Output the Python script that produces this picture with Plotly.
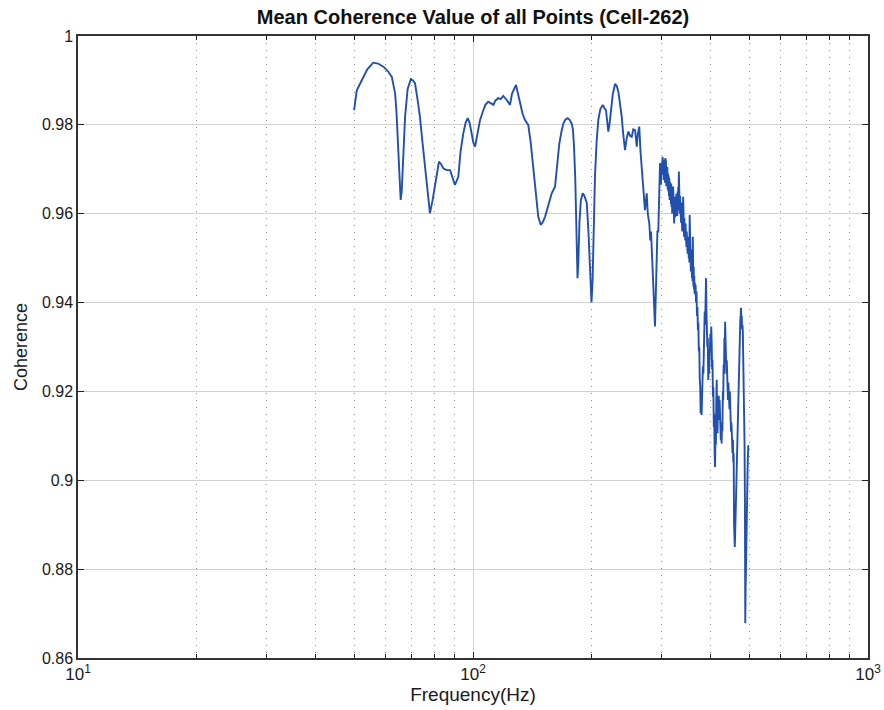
import plotly.graph_objects as go

# Mean coherence spectrum, 50-500 Hz, stored in three frequency bands.
# Band 1: 50-296 Hz
freq_low = [
    50.0, 50.8, 51.8, 52.8, 54.0, 55.9, 57.5, 59.3, 61.0, 62.3, 63.0, 63.5, 64.0, 64.4,
    65.0, 65.6, 66.0, 66.4, 67.3, 68.3, 69.6, 70.5, 71.3, 72.3, 73.4, 74.5, 75.6, 76.7,
    77.8, 79.0, 80.2, 82.0, 83.0, 84.1, 85.0, 85.8, 87.5, 88.5, 90.0, 91.8, 93.0, 94.5,
    95.8, 97.0, 98.0, 99.2, 100.2, 101.2, 102.5, 104.2, 106.2, 107.5, 109.3, 111.0,
    112.6, 114.0, 115.9, 117.5, 119.3, 121.7, 124.1, 125.5, 126.5, 128.5, 130.0, 131.5,
    133.5, 135.4, 138.0, 140.0, 142.1, 144.5, 146.3, 148.4, 150.0, 152.2, 155.0, 158.2,
    161.3, 163.5, 165.4, 167.5, 169.3, 171.5, 173.6, 175.5, 177.8, 179.0, 180.2, 181.5,
    183.0, 183.9, 184.8, 186.0, 187.5, 189.6, 191.5, 194.1, 196.0, 197.8, 199.5, 200.8,
    202.0, 203.6, 205.5, 207.6, 210.0, 213.0, 215.0, 217.1, 218.5, 220.1, 221.5, 223.2,
    226.0, 228.9, 231.0, 233.3, 235.5, 238.0, 240.0, 242.6, 245.0, 247.3, 250.0, 252.3,
    254.5, 257.2, 258.5, 259.7, 261.5, 263.6, 265.5, 267.4, 270.0, 272.5, 275.3, 277.0,
    279.5, 281.0, 282.3, 284.0, 286.1, 287.5, 288.9, 290.3, 291.8, 293.0, 294.5, 296.0,
]
coh_low = [
    0.9833, 0.9878, 0.9893, 0.9908, 0.9925, 0.9940, 0.9938, 0.9931, 0.9920, 0.9908, 0.9890, 0.9871, 0.9830, 0.9781,
    0.9700, 0.9631, 0.9650, 0.9706, 0.9818, 0.9880, 0.9903, 0.9900, 0.9894, 0.9860, 0.9818, 0.9760, 0.9706, 0.9650,
    0.9601, 0.9630, 0.9668, 0.9717, 0.9712, 0.9702, 0.9700, 0.9698, 0.9698, 0.9685, 0.9665, 0.9683, 0.9740, 0.9781,
    0.9805, 0.9815, 0.9805, 0.9781, 0.9760, 0.9751, 0.9780, 0.9811, 0.9833, 0.9845, 0.9852, 0.9848,
    0.9845, 0.9855, 0.9860, 0.9858, 0.9865, 0.9856, 0.9845, 0.9870, 0.9878, 0.9890, 0.9870, 0.9849,
    0.9825, 0.9811, 0.9800, 0.9760, 0.9706, 0.9640, 0.9593, 0.9575, 0.9580, 0.9593, 0.9618, 0.9646,
    0.9661, 0.9720, 0.9758, 0.9785, 0.9803, 0.9812, 0.9815, 0.9812, 0.9803, 0.9790, 0.9751, 0.9680,
    0.9571, 0.9455, 0.9490, 0.9580, 0.9630, 0.9646, 0.9640, 0.9624, 0.9560, 0.9470, 0.9400, 0.9450,
    0.9580, 0.9683, 0.9760, 0.9811, 0.9835, 0.9845, 0.9838, 0.9833, 0.9810, 0.9785, 0.9800, 0.9833,
    0.9870, 0.9892, 0.9888, 0.9875, 0.9850, 0.9818, 0.9780, 0.9743, 0.9770, 0.9785, 0.9775, 0.9773,
    0.9790, 0.9788, 0.9770, 0.9751, 0.9780, 0.9796, 0.9740, 0.9698, 0.9650, 0.9608, 0.9646, 0.9600,
    0.9578, 0.9540, 0.9560, 0.9500, 0.9466, 0.9400, 0.9346, 0.9420, 0.9496, 0.9560, 0.9560, 0.9640,
]

# Band 2: 297-365 Hz (dense, fluctuating)
freq_mid = [
    297.5, 298.0, 298.6, 299.1, 299.7, 300.2, 300.8, 301.4, 302.0, 302.6,
    303.2, 303.8, 304.4, 305.0, 305.6, 306.2, 306.8, 307.4, 308.0, 308.6,
    309.2, 309.8, 310.4, 311.0, 311.6, 312.2, 312.8, 313.4, 314.0, 314.6,
    315.2, 315.8, 316.4, 317.0, 317.6, 318.2, 318.8, 319.4, 320.0, 320.6,
    321.2, 321.8, 322.4, 323.0, 323.6, 324.2, 324.8, 325.4, 326.0, 326.6,
    327.2, 327.8, 328.4, 329.0, 329.6, 330.2, 330.8, 331.4, 332.0, 332.6,
    333.2, 333.8, 334.4, 335.0, 335.6, 336.2, 336.8, 337.4, 338.0, 338.6,
    339.2, 339.8, 340.4, 341.0, 341.6, 342.2, 342.8, 343.4, 344.0, 344.6,
    345.2, 345.8, 346.4, 347.0, 347.6, 348.2, 348.8, 349.4, 350.0, 350.6,
    351.2, 351.8, 352.4, 353.0, 353.6, 354.2, 354.8, 355.4, 356.0, 356.6,
    357.2, 357.8, 358.4, 359.0, 359.6, 360.2, 360.8, 361.4, 362.0, 362.6,
    363.2, 363.8, 364.4, 365.0,
]
coh_mid = [
    0.9714, 0.9680, 0.9706, 0.9665, 0.9712, 0.9690, 0.9722, 0.9695, 0.9728, 0.9688,
    0.9718, 0.9676, 0.9722, 0.9690, 0.9713, 0.9670, 0.9725, 0.9685, 0.9718, 0.9662,
    0.9700, 0.9668, 0.9705, 0.9655, 0.9691, 0.9650, 0.9686, 0.9640, 0.9680, 0.9631,
    0.9672, 0.9645, 0.9661, 0.9622, 0.9668, 0.9615, 0.9650, 0.9600, 0.9645, 0.9610,
    0.9661, 0.9590, 0.9640, 0.9578, 0.9632, 0.9598, 0.9638, 0.9592, 0.9628, 0.9600,
    0.9645, 0.9605, 0.9638, 0.9595, 0.9650, 0.9608, 0.9660, 0.9612, 0.9695, 0.9630,
    0.9665, 0.9600, 0.9640, 0.9595, 0.9632, 0.9580, 0.9625, 0.9570, 0.9616, 0.9560,
    0.9605, 0.9565, 0.9638, 0.9555, 0.9600, 0.9548, 0.9590, 0.9550, 0.9585, 0.9540,
    0.9578, 0.9535, 0.9570, 0.9525, 0.9560, 0.9518, 0.9555, 0.9510, 0.9548, 0.9505,
    0.9540, 0.9500, 0.9530, 0.9490, 0.9597, 0.9520, 0.9480, 0.9535, 0.9470, 0.9520,
    0.9466, 0.9505, 0.9455, 0.9490, 0.9448, 0.9548, 0.9460, 0.9436, 0.9480, 0.9430,
    0.9460, 0.9421, 0.9445, 0.9418,
]

# Band 3: 366-498 Hz
freq_high = [
    366.0, 367.0, 368.0, 369.0, 370.0, 371.0, 372.0, 373.0, 374.0, 375.0,
    376.0, 377.0, 378.0, 379.0, 380.0, 381.0, 382.0, 383.0, 384.0, 385.0,
    386.0, 387.0, 388.0, 389.0, 390.0, 391.0, 392.0, 393.0, 394.0, 395.0,
    396.0, 397.0, 398.0, 399.0, 400.0, 401.0, 402.0, 403.0, 404.0, 405.0,
    406.0, 407.0, 408.0, 409.0, 410.0, 411.0, 412.0, 413.0, 414.0, 415.0,
    416.0, 417.0, 418.0, 419.0, 420.0, 421.0, 422.0, 423.0, 424.0, 425.0,
    426.0, 427.0, 428.0, 429.0, 430.0, 431.0, 432.0, 433.0, 434.0, 434.8,
    436.0, 437.0, 438.0, 439.0, 440.0, 441.0, 442.0, 443.0, 444.0, 445.0,
    446.0, 447.0, 448.0, 449.0, 450.0, 451.0, 452.0, 453.0, 454.0, 455.0,
    456.0, 457.0, 458.0, 459.0, 460.0, 461.0, 462.0, 463.0, 464.0, 465.0,
    466.0, 467.0, 468.0, 469.0, 470.0, 471.0, 472.0, 473.0, 474.0, 475.0,
    476.0, 477.0, 478.0, 479.0, 480.0, 481.0, 482.0, 483.0, 484.0, 485.0,
    486.0, 487.0, 488.0, 489.0, 490.0, 491.0, 492.0, 493.0, 494.0, 495.0,
    496.0, 497.7,
]
coh_high = [
    0.9440, 0.9400, 0.9425, 0.9370, 0.9390, 0.9338, 0.9355, 0.9290, 0.9300, 0.9230,
    0.9211, 0.9151, 0.9180, 0.9147, 0.9210, 0.9190, 0.9256, 0.9240, 0.9330, 0.9300,
    0.9380, 0.9350, 0.9430, 0.9455, 0.9380, 0.9353, 0.9300, 0.9320, 0.9226, 0.9260,
    0.9240, 0.9300, 0.9270, 0.9330, 0.9290, 0.9346, 0.9310, 0.9250, 0.9270, 0.9188,
    0.9210, 0.9120, 0.9150, 0.9060, 0.9030, 0.9100, 0.9080, 0.9180, 0.9226, 0.9130,
    0.9106, 0.9170, 0.9140, 0.9190, 0.9136, 0.9181, 0.9120, 0.9150, 0.9090, 0.9120,
    0.9083, 0.9130, 0.9110, 0.9200, 0.9180, 0.9260, 0.9240, 0.9320, 0.9300, 0.9357,
    0.9280, 0.9310, 0.9240, 0.9270, 0.9210, 0.9240, 0.9181, 0.9220, 0.9170, 0.9210,
    0.9160, 0.9200, 0.9140, 0.9170, 0.9110, 0.9130, 0.9080, 0.9100, 0.9061, 0.9091,
    0.9040, 0.9060, 0.8903, 0.8880, 0.8850, 0.8880, 0.8920, 0.8960, 0.9000, 0.9020,
    0.9050, 0.9075, 0.9120, 0.9180, 0.9220, 0.9250, 0.9271, 0.9300, 0.9330, 0.9360,
    0.9370, 0.9388, 0.9360, 0.9370, 0.9340, 0.9350, 0.9338, 0.9280, 0.9250, 0.9200,
    0.9188, 0.9080, 0.8950, 0.8678, 0.8760, 0.8800, 0.8870, 0.8926, 0.8960, 0.9000,
    0.9040, 0.9079,
]

assert len(freq_low) == len(coh_low)
assert len(freq_mid) == len(coh_mid)
assert len(freq_high) == len(coh_high)

freq_hz = freq_low + freq_mid + freq_high
coherence = coh_low + coh_mid + coh_high

x_major = [10, 100, 1000]
x_major_text = ["10<sup>1</sup>", "10<sup>2</sup>", "10<sup>3</sup>"]
x_minor = [20, 30, 40, 50, 60, 70, 80, 90, 200, 300, 400, 500, 600, 700, 800, 900]
y_ticks = [0.86, 0.88, 0.9, 0.92, 0.94, 0.96, 0.98, 1.0]
y_tick_text = ["0.86", "0.88", "0.9", "0.92", "0.94", "0.96", "0.98", "1"]

FONT = "Liberation Sans"

fig = go.Figure()
fig.add_trace(go.Scatter(
    x=freq_hz, y=coherence, mode="lines",
    line=dict(color="#2150b0", width=1.9),
    showlegend=False,
))

fig.update_layout(
    width=884, height=710,
    margin=dict(l=78, r=16, t=36, b=52),
    paper_bgcolor="white", plot_bgcolor="white",
    font=dict(family=FONT, size=16, color="#1a1a1a"),
    title=dict(
        text="<b>Mean Coherence Value of all Points (Cell-262)</b>",
        x=0.5, xref="paper", xanchor="center",
        y=1 - 17 / 710, yref="container", yanchor="middle",
        font=dict(family=FONT, size=20, color="#111"),
    ),
)

fig.update_xaxes(
    type="log", range=[1, 3], automargin=False,
    tickmode="array", tickvals=x_major, ticktext=x_major_text,
    ticks="inside", ticklen=6, tickwidth=1.2, tickcolor="#222",
    showline=True, linecolor="#333", linewidth=1.5, mirror="ticks",
    showgrid=True, gridcolor="#d2d2d2", gridwidth=1.3,
    zeroline=False,
    tickfont=dict(size=17),
    minor=dict(
        tickmode="array", tickvals=x_minor,
        ticks="inside", ticklen=4, tickwidth=1.2, tickcolor="#222",
        showgrid=True, gridcolor="#8c8c8c", gridwidth=1.2, griddash="1px,6px",
    ),
    title=dict(text="Frequency(Hz)", font=dict(size=19), standoff=2),
)

fig.update_yaxes(
    range=[0.86, 1.0], automargin=False,
    tickmode="array", tickvals=y_ticks, ticktext=y_tick_text,
    ticks="inside", ticklen=6, tickwidth=1.2, tickcolor="#222",
    showline=True, linecolor="#333", linewidth=1.5, mirror="ticks",
    showgrid=True, gridcolor="#d2d2d2", gridwidth=1.3,
    zeroline=False,
    tickfont=dict(size=16),
    title=dict(text="Coherence", font=dict(size=18), standoff=10),
)

fig.write_html("out.html")
